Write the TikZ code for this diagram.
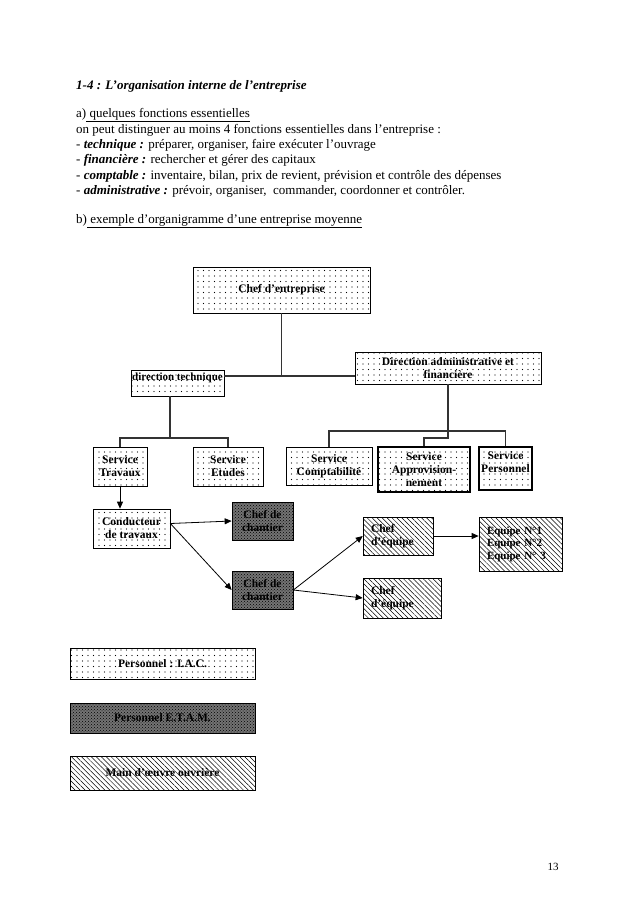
\documentclass[tikz,border=0pt]{standalone}
\usepackage{fontspec}
\setmainfont{Liberation Serif}
\usetikzlibrary{arrows.meta,patterns,patterns.meta}

\begin{document}
\begin{tikzpicture}[x=1pt,y=-1pt,
    txt/.style={anchor=base west,inner sep=0pt,font=\fontsize{13}{15}\selectfont},
    box/.style={shape=rectangle,draw=black,line width=0.7pt,align=center,inner sep=1pt,font=\fontsize{11.5}{13}\selectfont\bfseries},
    dotbox/.style={box,pattern={Dots[distance=5.5pt,radius=0.6pt]},pattern color=black},
    darkbox/.style={box,fill=black!55,postaction={pattern=crosshatch dots}},
    hatchbox/.style={box,pattern={Lines[angle=-45,distance=3.5pt,line width=0.5pt]}},
    leftbox/.style={hatchbox,align=left,inner xsep=8pt},
    heavy/.style={line width=1.6pt},
    link/.style={draw=black!80,line width=1.1pt},
    arr/.style={draw=black,line width=0.8pt,-{Triangle[length=7pt,width=6pt]}}]

    \useasboundingbox[fill=white] (0,0) rectangle (638,903);

    % texte
    \node[txt] (title) at (76,89) {\textbf{\textit{1-4 : L’organisation interne de l’entreprise}}};
    \node[txt] (parta) at (76,117) {a)\underline{ quelques fonctions essentielles}};
    \node[txt] (intro) at (76,133) {on peut distinguer au moins 4 fonctions essentielles dans l’entreprise :};
    \node[txt] (tech) at (76,148) {- \textbf{\textit{technique :}} préparer, organiser, faire exécuter l’ouvrage};
    \node[txt] (fin) at (76,163.5) {- \textbf{\textit{financière :}} rechercher et gérer des capitaux};
    \node[txt] (compt) at (76,179) {- \textbf{\textit{comptable :}} inventaire, bilan, prix de revient, prévision et contrôle des dépenses};
    \node[txt] (admin) at (76,194) {- \textbf{\textit{administrative :}} prévoir, organiser,\ \ commander, coordonner et contrôler.};
    \node[txt] (partb) at (76,223) {b)\underline{ exemple d’organigramme d’une entreprise moyenne}};

    % organigramme
    \node[dotbox,minimum width=177pt,minimum height=46pt] (chef) at (281.5,290) {Chef d’entreprise};
    \node[dotbox,minimum width=186pt,minimum height=32pt] (dadm) at (448,368) {Direction administrative et\\financière};
    \node[dotbox,minimum width=93pt,minimum height=26pt,font=\fontsize{11}{12.5}\selectfont\bfseries] (dtech) at (177.5,383) {direction technique\\~};

    \node[dotbox,minimum width=54pt,minimum height=39pt] (trav) at (120,466.5) {Service\\Travaux};
    \node[dotbox,minimum width=70pt,minimum height=39pt] (etud) at (228,466.5) {Service\\Etudes};
    \node[dotbox,minimum width=86pt,minimum height=38pt] (compta) at (329,466) {Service\\Comptabilité};
    \node[dotbox,heavy,minimum width=92pt,minimum height=45pt] (appro) at (424,469.5) {Service\\Approvision-\\nement};
    \node[dotbox,heavy,minimum width=53pt,minimum height=43pt] (perso) at (505.5,468.5) {Service\\Personnel\\~};

    \node[dotbox,minimum width=77pt,minimum height=39pt] (cond) at (131.5,528.5) {Conducteur\\de travaux};
    \node[darkbox,minimum width=61pt,minimum height=38pt] (chant1) at (262.5,521) {Chef de\\chantier};
    \node[darkbox,minimum width=61pt,minimum height=38pt] (chant2) at (262.5,590) {Chef de\\chantier};
    \node[leftbox,text width=54pt,minimum height=38pt] (equip1) at (398,536) {Chef\\d’équipe};
    \node[leftbox,text width=62pt,minimum height=40pt] (equip2) at (402,598) {Chef\\d’équipe};
    \node[leftbox,text width=67pt,minimum height=54pt,font=\fontsize{11}{12.5}\selectfont\bfseries] (equipes) at (520.5,544) {Equipe N°1\\Equipe N°2\\Equipe N° 3};

    \coordinate (hub) at (281.5,376);
    \coordinate (tbus) at (170,438);
    \coordinate (abus) at (448,438);
    \coordinate (cbus) at (448,431);

    \draw[link] (chef) -- (hub);
    \draw[link] (hub -| dtech.east) -- (hub -| dadm.west);
    \draw[link] (dtech.south -| tbus) -- (tbus);
    \draw[link] (trav.north) |- (tbus) -| (etud.north);
    \draw[link] (dadm.south) -- (abus) -| (appro.north);
    \draw[link] (compta.north) |- (cbus) -| (perso.north);

    \draw[arr] (trav.south) -- (trav.south |- cond.north);
    \draw[arr] ([yshift=5pt]cond.east) -- (chant1.west);
    \draw[arr] ([yshift=5pt]cond.east) -- (chant2.west);
    \draw[arr] (chant2.east) -- (equip1.west);
    \draw[arr] (chant2.east) -- (equip2.west);
    \draw[arr] (equip1.east) -- (equip1.east -| equipes.west);

    % legende
    \node[dotbox,minimum width=185pt,minimum height=31pt] (iac) at (162.5,663.5) {Personnel : I.A.C.};
    \node[darkbox,minimum width=185pt,minimum height=30pt] (etam) at (162.5,718) {Personnel E.T.A.M.};
    \node[hatchbox,minimum width=185pt,minimum height=34pt] (mo) at (162.5,773) {Main d’œuvre ouvrière};

    \node[inner sep=0pt,font=\fontsize{11}{13}\selectfont] (page) at (553,867) {13};

\end{tikzpicture}
\end{document}
